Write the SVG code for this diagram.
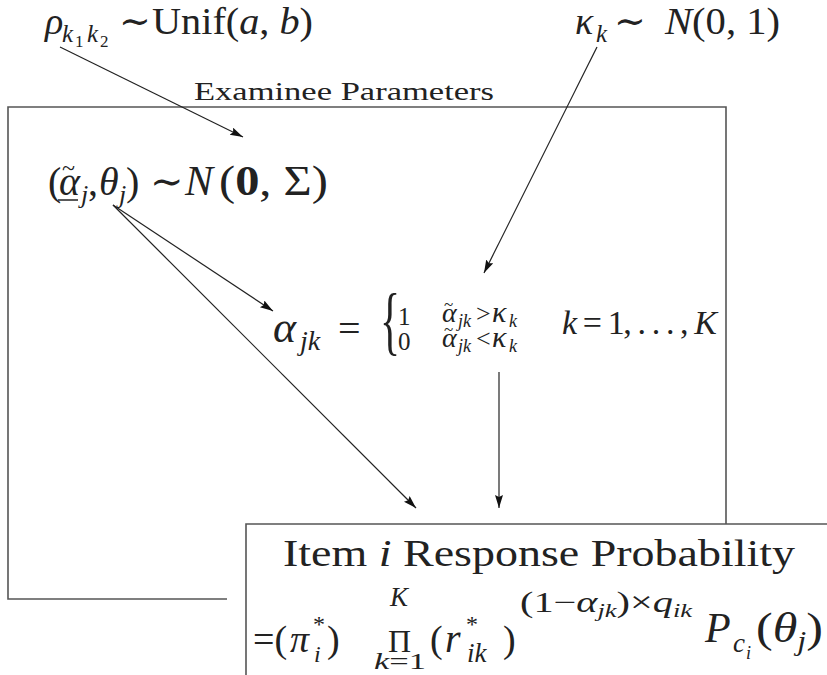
<svg xmlns="http://www.w3.org/2000/svg" width="827" height="675" viewBox="0 0 827 675">
<style>
.t{font-family:"Liberation Serif","DejaVu Serif",serif;fill:#222}
.i{font-style:italic}
.ln{fill:none;stroke:#222;stroke-width:1.2}
.bx{fill:none;stroke:#555;stroke-width:1.6}
</style>
<defs>
<marker id="ah" markerUnits="userSpaceOnUse" markerWidth="14" markerHeight="10" refX="13" refY="4" orient="auto">
<path d="M0,0 L13,4 L0,8 L2,4 z" fill="#111"/>
</marker>
</defs>
<rect width="827" height="675" fill="#fff"/>

<g id="examinee-box">
<path class="bx" d="M227,599 H8 V107 H726 V524"/>
<text class="t" x="194" y="100" font-size="25" textLength="300" lengthAdjust="spacingAndGlyphs">Examinee Parameters</text>
</g>

<g id="rho">
<text class="t i" x="45" y="34" font-size="38">ρ</text>
<text class="t i" x="62" y="42" font-size="25">k</text>
<text class="t" x="75" y="47" font-size="17">1</text>
<text class="t i" x="87" y="42" font-size="25">k</text>
<text class="t" x="100" y="47" font-size="17">2</text>
<text class="t" x="119" y="34" font-size="38">∼</text>
<text class="t" x="152" y="34" font-size="38" textLength="161" lengthAdjust="spacingAndGlyphs">Unif(<tspan class="i">a</tspan>, <tspan class="i">b</tspan>)</text>
</g>

<g id="kappa">
<text class="t i" x="575" y="34" font-size="38">κ</text>
<text class="t i" x="596" y="42" font-size="25">k</text>
<text class="t" x="614" y="34" font-size="38">∼</text>
<text class="t" x="665" y="34" font-size="38" textLength="115" lengthAdjust="spacingAndGlyphs"><tspan class="i">N</tspan>(0, 1)</text>
</g>

<g id="joint">
<text class="t" x="48" y="195" font-size="40">(</text>
<text class="t i" x="59" y="195" font-size="40">α</text>
<text class="t" x="62" y="176" font-size="24">~</text>
<line x1="58" y1="200" x2="78" y2="200" stroke="#222" stroke-width="1.5"/>
<text class="t i" x="81" y="203" font-size="26">j</text>
<text class="t" x="88" y="195" font-size="40">,</text>
<text class="t i" x="99" y="195" font-size="40">θ</text>
<text class="t i" x="119" y="203" font-size="26">j</text>
<text class="t" x="126" y="195" font-size="40">)</text>
<text class="t" x="150" y="195" font-size="40">∼</text>
<text class="t i" x="185" y="195" font-size="42">N</text>
<text class="t" x="219" y="195" font-size="43" textLength="109" lengthAdjust="spacingAndGlyphs">(<tspan font-weight="bold">0</tspan>, Σ)</text>
</g>

<g id="alpha">
<text class="t i" x="273" y="342" font-size="44">α</text>
<text class="t i" x="300" y="350" font-size="28">jk</text>
<text class="t" x="338" y="342" font-size="40">=</text>
<text class="t" x="0" y="0" font-size="76" transform="translate(380,346) scale(0.55,1)">{</text>
<text class="t" x="398" y="325" font-size="25">1</text>
<text class="t" x="398" y="350" font-size="25">0</text>
<text class="t i" x="442" y="322" font-size="28">α</text>
<text class="t" x="444" y="310" font-size="17">~</text>
<text class="t i" x="458" y="327" font-size="18">jk</text>
<text class="t" x="476" y="322" font-size="26">&gt;</text>
<text class="t i" x="492" y="322" font-size="30">κ</text>
<text class="t i" x="509" y="327" font-size="18">k</text>
<text class="t i" x="442" y="347" font-size="28">α</text>
<text class="t" x="444" y="335" font-size="17">~</text>
<text class="t i" x="458" y="352" font-size="18">jk</text>
<text class="t" x="476" y="347" font-size="26">&lt;</text>
<text class="t i" x="492" y="347" font-size="30">κ</text>
<text class="t i" x="509" y="352" font-size="18">k</text>
<text class="t" x="562" y="334" font-size="34" textLength="155" lengthAdjust="spacing"><tspan class="i">k</tspan> = 1, . . . , <tspan class="i">K</tspan></text>
</g>

<g id="item">
<path class="bx" d="M246,675 V524 H827"/>
<text class="t" x="283" y="566" font-size="38" textLength="512" lengthAdjust="spacingAndGlyphs">Item <tspan class="i">i</tspan> Response Probability</text>
<text class="t" x="253" y="652" font-size="38">=(</text>
<text class="t i" x="290" y="652" font-size="38">π</text>
<text class="t" x="313" y="632" font-size="24">*</text>
<text class="t i" x="314" y="662" font-size="24">i</text>
<text class="t" x="327" y="652" font-size="38">)</text>
<text class="t i" x="390" y="606" font-size="27">K</text>
<text class="t" x="388" y="652" font-size="32">Π</text>
<text class="t" x="374" y="669" font-size="24" textLength="52" lengthAdjust="spacingAndGlyphs"><tspan class="i">k</tspan>=1</text>
<text class="t" x="430" y="652" font-size="38">(</text>
<text class="t i" x="445" y="652" font-size="40">r</text>
<text class="t" x="466" y="632" font-size="24">*</text>
<text class="t i" x="467" y="662" font-size="27">ik</text>
<text class="t" x="503" y="652" font-size="38">)</text>
<text class="t" x="520" y="612" font-size="29" textLength="172" lengthAdjust="spacingAndGlyphs">(1−<tspan class="i">α</tspan><tspan class="i" font-size="19" dy="5">jk</tspan><tspan dy="-5">)×</tspan><tspan class="i">q</tspan><tspan class="i" font-size="19" dy="5">ik</tspan></text>
<text class="t i" x="705" y="642" font-size="42">P</text>
<text class="t i" x="733" y="652" font-size="27">c</text>
<text class="t i" x="746" y="659" font-size="18">i</text>
<text class="t" x="756" y="642" font-size="42" textLength="67" lengthAdjust="spacingAndGlyphs">(<tspan class="i">θ</tspan><tspan class="i" font-size="27" dy="8">j</tspan><tspan dy="-8">)</tspan></text>
</g>

<g id="connectors">
<line class="ln" x1="60" y1="47" x2="243" y2="137" marker-end="url(#ah)"/>
<line class="ln" x1="597" y1="47" x2="484" y2="273" marker-end="url(#ah)"/>
<line class="ln" x1="113" y1="205" x2="273" y2="311" marker-end="url(#ah)"/>
<line class="ln" x1="113" y1="205" x2="416" y2="508" marker-end="url(#ah)"/>
<line class="ln" x1="499" y1="372" x2="499" y2="508" marker-end="url(#ah)"/>
</g>
</svg>
